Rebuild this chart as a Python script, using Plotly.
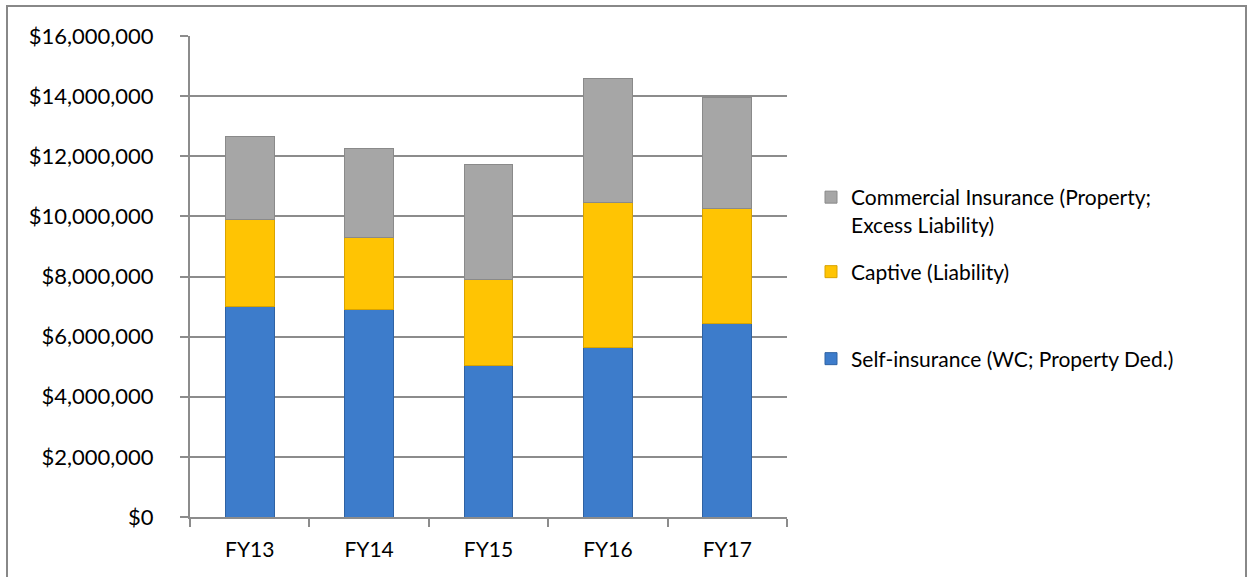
import plotly.graph_objects as go

categories = ["FY13", "FY14", "FY15", "FY16", "FY17"]
self_insurance = [7000000, 6890000, 5030000, 5650000, 6430000]
captive = [2880000, 2420000, 2860000, 4810000, 3840000]
commercial = [2780000, 2960000, 3850000, 4140000, 3680000]

names = [
    "Self-insurance (WC; Property Ded.)",
    "Captive (Liability)",
    "Commercial Insurance (Property;<br>Excess Liability)",
]
colors = ["#3D7CCB", "#FFC403", "#A6A6A6"]
edges = ["#2F62A3", "#D9A300", "#8A8A8A"]
legend_ids = ["legend3", "legend2", "legend"]

font_family = "Lato, 'Open Sans', sans-serif"

fig = go.Figure()
for vals, name, col, edge, lid in zip(
    [self_insurance, captive, commercial], names, colors, edges, legend_ids
):
    fig.add_trace(
        go.Bar(
            x=categories,
            y=vals,
            name=name,
            legend=lid,
            marker=dict(color=col, line=dict(color=edge, width=1)),
        )
    )

W, H = 1252, 577
L, R, T, B = 190, 787, 36, 517

def px_x(p):
    return (p - L) / (R - L)

def px_y(p):
    return (B - p) / (B - T)

def leg(center_y):
    return dict(
        x=px_x(811),
        y=px_y(center_y),
        xanchor="left",
        yanchor="middle",
        valign="top",
        font=dict(size=21),
        bgcolor="rgba(0,0,0,0)",
    )

fig.update_layout(
    width=W,
    height=H,
    margin=dict(l=L, r=W - R, t=T, b=H - B),
    barmode="stack",
    bargap=0.59,
    paper_bgcolor="white",
    plot_bgcolor="white",
    font=dict(family=font_family, size=21, color="#000000"),
    showlegend=True,
    legend=leg(211),
    legend2=leg(272),
    legend3=leg(359),
    xaxis=dict(
        type="category",
        showline=True,
        linecolor="#8C8C8C",
        linewidth=2,
        ticks="outside",
        tickson="boundaries",
        ticklen=8,
        tickwidth=2,
        tickcolor="#8C8C8C",
        showgrid=False,
        tickfont=dict(size=21),
        ticklabelstandoff=13,
    ),
    yaxis=dict(
        range=[0, 16000000],
        dtick=2000000,
        tick0=0,
        tickprefix="$",
        tickformat=",d",
        showline=True,
        linecolor="#8C8C8C",
        linewidth=2,
        ticks="outside",
        ticklen=8,
        tickwidth=2,
        tickcolor="#8C8C8C",
        showgrid=True,
        gridcolor="#8C8C8C",
        gridwidth=2,
        zeroline=False,
        ticklabelstandoff=22,
        tickfont=dict(size=22),
    ),
    shapes=[
        dict(
            type="rect",
            xref="paper",
            yref="paper",
            x0=px_x(7),
            x1=px_x(1246),
            y0=px_y(590),
            y1=px_y(6),
            line=dict(color="#888888", width=2),
            fillcolor="rgba(0,0,0,0)",
            layer="below",
        )
    ],
)

fig.write_html("out.html")
